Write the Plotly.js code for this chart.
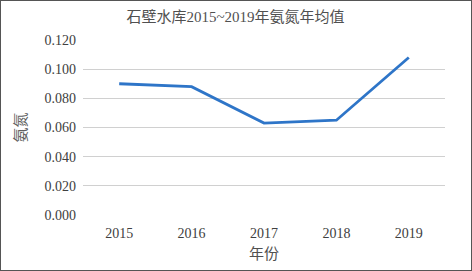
<!DOCTYPE html>
<html><head><meta charset="utf-8">
<script src="https://cdn.plot.ly/plotly-3.0.1.min.js"></script>
<style>html,body{margin:0;padding:0;background:#fff}#c{width:472px;height:271px;box-sizing:border-box;border:1.5px solid #555}</style>
</head><body><div id="c"></div>
<script>
const years = ['2015','2016','2017','2018','2019'];
const ammonia = [0.090, 0.088, 0.063, 0.065, 0.108];
const yTicks = [0, 0.02, 0.04, 0.06, 0.08, 0.10, 0.12];
const F = '"Liberation Serif","Times New Roman","Noto Sans CJK SC",serif';
Plotly.newPlot('c', [{
  x: years, y: ammonia, type: 'scatter', mode: 'lines',
  line: {color: '#2e75c8', width: 2.8}
}], {
  width: 469, height: 268,
  margin: {l: 82, r: 25, t: 39, b: 54},
  paper_bgcolor: '#fff', plot_bgcolor: '#fff',
  showlegend: false,
  title: {text: '石壁水库2015~2019年氨氮年均值', x: 0.5, xanchor: 'center', y: 0.94, yanchor: 'middle', font: {family: F, size: 15, color: '#505050'}},
  xaxis: {type: 'category', range: [-0.5, 4.5], showgrid: false, showline: false, zeroline: false, ticks: '',
    ticklabelstandoff: 8,
    tickfont: {family: F, size: 14, color: '#404040'},
    title: {text: '年份', font: {family: F, size: 15, color: '#505050'}, standoff: 8}},
  yaxis: {range: [0, 0.12], tickvals: yTicks, tickformat: '.3f', showgrid: true, gridcolor: '#d0d0d0', gridwidth: 1,
    zeroline: false, showline: false, ticks: '', ticklen: 0,
    ticklabelstandoff: 6,
    tickfont: {family: F, size: 14, color: '#404040'},
    title: {text: '氨氮', font: {family: F, size: 15, color: '#606060'}, standoff: 14}}
}, {staticPlot: true, displayModeBar: false});
</script></body></html>
